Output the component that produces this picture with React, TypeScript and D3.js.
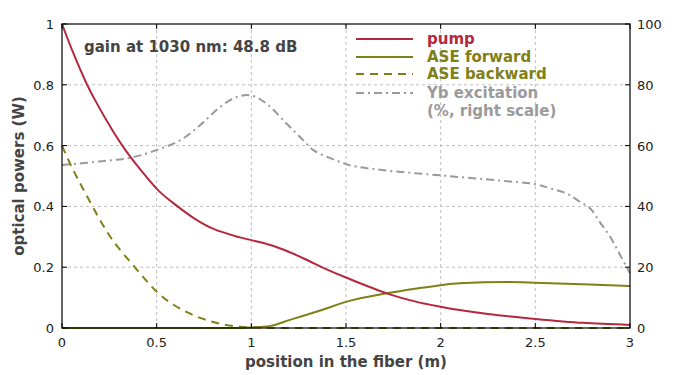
import React from "react";
import * as d3 from "d3";

const pumpX = [0, 0.06, 0.132, 0.176, 0.264, 0.334, 0.405, 0.511, 0.6, 0.7, 0.8, 0.94, 1.0, 1.1, 1.2, 1.3, 1.38, 1.5, 1.715, 1.874, 2.0, 2.1, 2.25, 2.5, 2.75, 3.0];
const pumpY = [1.0, 0.904, 0.801, 0.748, 0.653, 0.586, 0.528, 0.451, 0.405, 0.36, 0.326, 0.298, 0.289, 0.273, 0.25, 0.222, 0.198, 0.166, 0.114, 0.086, 0.07, 0.059, 0.046, 0.03, 0.017, 0.01];

const fwdX = [0, 0.5, 0.9, 1.0, 1.1, 1.2, 1.38, 1.5, 1.715, 1.874, 2.0, 2.1, 2.35, 2.5, 2.75, 3.0];
const fwdY = [0, 0, 0, 0.002, 0.007, 0.026, 0.061, 0.086, 0.114, 0.13, 0.141, 0.147, 0.151, 0.149, 0.144, 0.138];

const bwdX = [0, 0.055, 0.111, 0.148, 0.25, 0.375, 0.52, 0.66, 0.78, 0.94, 1.0, 1.2, 1.5, 2.0, 2.5, 3.0];
const bwdY = [0.6, 0.525, 0.458, 0.415, 0.305, 0.207, 0.108, 0.052, 0.023, 0.004, 0.002, 0, 0, 0, 0, 0];

const ybX = [0, 0.2, 0.37, 0.511, 0.623, 0.729, 0.835, 0.923, 1.0, 1.08, 1.187, 1.275, 1.328, 1.4, 1.47, 1.52, 1.7, 2.0, 2.31, 2.5, 2.58, 2.667, 2.736, 2.79, 2.84, 2.895, 2.948, 3.0];
const ybY = [53.6, 54.8, 56.1, 58.8, 61.7, 66.7, 72.7, 76, 76.5, 73.8, 67.2, 61.7, 58.5, 56.3, 54.6, 53.5, 51.9, 50.2, 48.5, 47.3, 45.9, 44.2, 41.5, 39.3, 34.9, 30, 24, 18];

const xTicks = [0, 0.5, 1, 1.5, 2, 2.5, 3];
const xTickLabels = ["0", "0.5", "1", "1.5", "2", "2.5", "3"];
const yTicks = [0, 0.2, 0.4, 0.6, 0.8, 1];
const yTickLabels = ["0", "0.2", "0.4", "0.6", "0.8", "1"];
const y2Ticks = [0, 20, 40, 60, 80, 100];

const legendLabels = ["pump", "ASE forward", "ASE backward", "Yb excitation"];

const FONT = "Verdana, 'DejaVu Sans', sans-serif";
const PUMP = "#b5283e";
const OLIVE = "#808018";
const GRAY = "#9a9a9a";

export default function App() {
  const L = 62, R = 630, T = 24, B = 328;
  const x = d3.scaleLinear().domain([0, 3]).range([L, R]);
  const y = d3.scaleLinear().domain([0, 1]).range([B, T]);
  const y2 = d3.scaleLinear().domain([0, 100]).range([B, T]);

  const line = (xs: number[], ys: number[], ys2 = false, smooth = false) =>
    d3.line<number>()
      .x((_, i) => x(xs[i]))
      .y((d) => (ys2 ? y2(d) : y(d)))
      .curve(smooth ? d3.curveCatmullRom.alpha(0.5) : d3.curveMonotoneX)(ys) || "";

  const legendY = [39, 57, 74, 93];
  const legendColors = [PUMP, OLIVE, OLIVE, GRAY];
  const legendDash = [undefined, undefined, "8,6", "8,4,2,4"];

  return (
    <svg width={700} height={375} style={{ position: "absolute", left: 0, top: 0, background: "#fff" }} fontFamily={FONT}>
      <rect x={0} y={0} width={700} height={375} fill="#fff" />
      {xTicks.slice(1, -1).map((t) => (
        <line key={"gx" + t} x1={x(t)} x2={x(t)} y1={T} y2={B} stroke="#c0c0c0" strokeDasharray="3,3" />
      ))}
      {yTicks.slice(1, -1).map((t) => (
        <line key={"gy" + t} x1={L} x2={R} y1={y(t)} y2={y(t)} stroke="#c0c0c0" strokeDasharray="3,3" />
      ))}
      <path d={line(ybX, ybY, true, true)} fill="none" stroke={GRAY} strokeWidth={2} strokeDasharray="8,4,2,4" />
      <path d={line(bwdX, bwdY)} fill="none" stroke={OLIVE} strokeWidth={2} strokeDasharray="8,6" />
      <path d={line(fwdX, fwdY)} fill="none" stroke={OLIVE} strokeWidth={2} />
      <path d={line(pumpX, pumpY, false, true)} fill="none" stroke={PUMP} strokeWidth={2} />
      <rect x={L} y={T} width={R - L} height={B - T} fill="none" stroke="#000" strokeWidth={1.2} />
      {xTicks.map((t, i) => (
        <g key={"xt" + t}>
          <line x1={x(t)} x2={x(t)} y1={B} y2={B - 5} stroke="#000" />
          <line x1={x(t)} x2={x(t)} y1={T} y2={T + 5} stroke="#000" />
          <text x={x(t)} y={347} textAnchor="middle" fontSize={13} fill="#222">{xTickLabels[i]}</text>
        </g>
      ))}
      {yTicks.map((t, i) => (
        <g key={"yt" + t}>
          <line x1={L} x2={L + 5} y1={y(t)} y2={y(t)} stroke="#000" />
          <text x={54} y={y(t) + 5} textAnchor="end" fontSize={13} fill="#222">{yTickLabels[i]}</text>
        </g>
      ))}
      {y2Ticks.map((t) => (
        <g key={"y2t" + t}>
          <line x1={R} x2={R - 5} y1={y2(t)} y2={y2(t)} stroke="#000" />
          <text x={637} y={y2(t) + 5} textAnchor="start" fontSize={13} fill="#222">{t}</text>
        </g>
      ))}
      <text x={346} y={367} textAnchor="middle" fontSize={15} fontWeight="bold" fill="#444">position in the fiber (m)</text>
      <text transform="translate(24,176) rotate(-90)" textAnchor="middle" fontSize={15} fontWeight="bold" fill="#444">optical powers (W)</text>
      <text x={84} y={52} fontSize={15} fontWeight="bold" fill="#444">gain at 1030 nm: 48.8 dB</text>
      {legendLabels.map((lab, i) => (
        <g key={lab}>
          <line x1={356} x2={413} y1={legendY[i]} y2={legendY[i]} stroke={legendColors[i]} strokeWidth={2} strokeDasharray={legendDash[i]} />
          <text x={427} y={legendY[i] + 5} fontSize={15} fontWeight="bold" fill={legendColors[i]}>{lab}</text>
        </g>
      ))}
      <text x={427} y={116} fontSize={15} fontWeight="bold" fill={GRAY}>(%, right scale)</text>
    </svg>
  );
}
